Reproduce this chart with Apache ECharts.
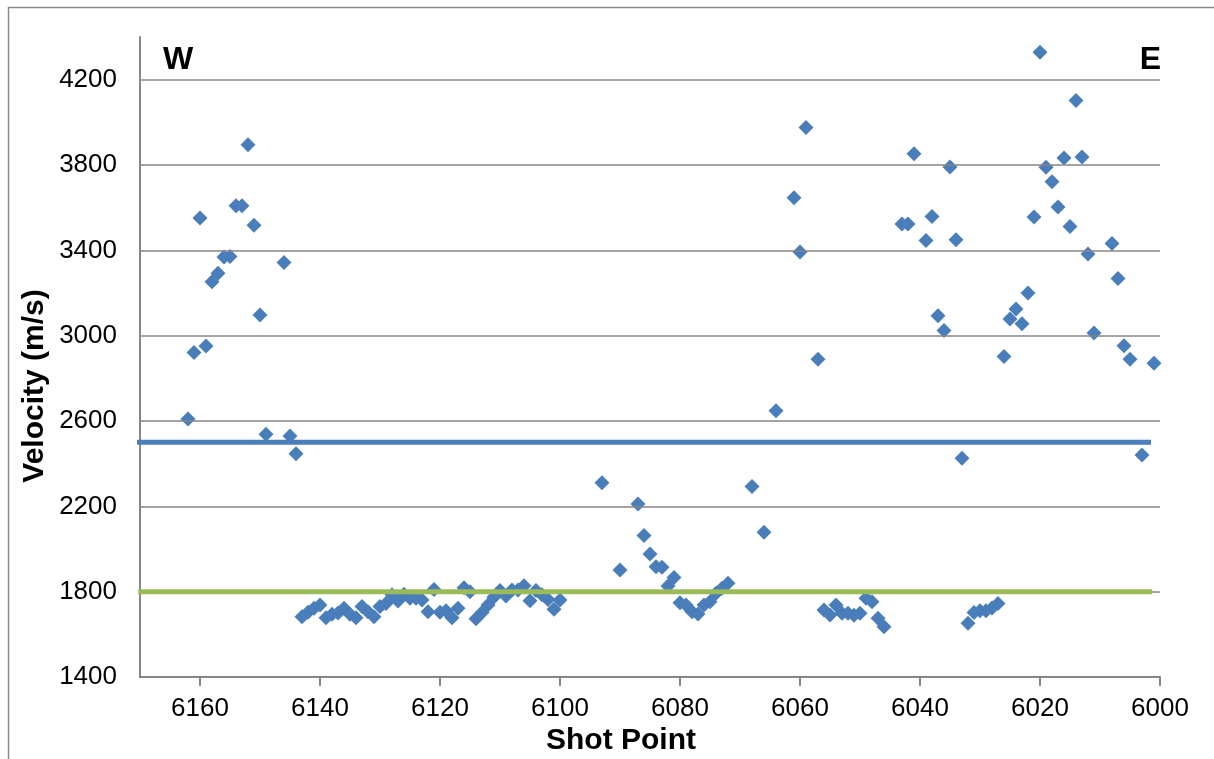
<!DOCTYPE html>
<html>
<head>
<meta charset="utf-8">
<script src="https://cdn.jsdelivr.net/npm/echarts@6/dist/echarts.min.js"></script>
<style>
  html, body { margin: 0; padding: 0; background: #ffffff; }
  #chart { width: 1214px; height: 759px; }
</style>
</head>
<body>
<div id="chart"></div>
<script>
// Shot points and measured velocities (m/s)
const shotPoints = [
  6162, 6161, 6160, 6159, 6158, 6157, 6156, 6155, 6154, 6153, 6152, 6151, 6150, 6149, 6146, 6145, 6144,
  6143, 6142, 6141, 6140, 6139, 6138, 6137, 6136, 6135, 6134, 6133, 6132, 6131, 6130, 6129, 6128, 6127,
  6126, 6125, 6124, 6123, 6122, 6121, 6120, 6119, 6118, 6117, 6116, 6115, 6114, 6113, 6112, 6111, 6110,
  6109, 6108, 6107, 6106, 6105, 6104, 6103, 6102, 6101, 6100,
  6093, 6090, 6087, 6086, 6085, 6084, 6083, 6082, 6081, 6080, 6079, 6078, 6077, 6076, 6075, 6074, 6073, 6072,
  6068, 6066, 6064, 6061, 6060, 6059, 6057, 6056, 6055, 6054, 6053, 6052, 6051, 6050, 6049, 6048, 6047, 6046,
  6043, 6042, 6041, 6039, 6038, 6037, 6036, 6035, 6034, 6033, 6032, 6031, 6030, 6029, 6028, 6027,
  6026, 6025, 6024, 6023, 6022, 6021, 6020, 6019, 6018, 6017, 6016, 6015, 6014, 6013, 6012, 6011,
  6008, 6007, 6006, 6005, 6003, 6001
];
const velocities = [
  2609, 2921, 3551, 2952, 3253, 3293, 3369, 3371, 3609, 3609, 3895, 3517, 3097, 2538, 3343, 2530, 2446,
  1683, 1703, 1722, 1738, 1678, 1694, 1700, 1722, 1694, 1678, 1730, 1706, 1683, 1730, 1745, 1785, 1756,
  1788, 1769, 1769, 1761, 1706, 1810, 1703, 1710, 1678, 1722, 1818, 1800, 1673, 1702, 1738, 1775, 1805,
  1780, 1808, 1808, 1828, 1757, 1806, 1785, 1763, 1718, 1761,
  2311, 1902, 2211, 2063, 1977, 1917, 1914, 1827, 1866, 1748, 1738, 1706, 1695, 1738, 1753, 1793, 1816, 1840,
  2293, 2079, 2648, 3647, 3392, 3976, 2890, 1714, 1691, 1738, 1699, 1699, 1690, 1699, 1769, 1753, 1675, 1636,
  3523, 3523, 3853, 3446, 3559, 3093, 3024, 3791, 3450, 2425, 1652, 1702, 1710, 1710, 1723, 1745,
  2902, 3078, 3125, 3056, 3200, 3556, 4328, 3789, 3722, 3603, 3833, 3512, 4102, 3838, 3383, 3012,
  3432, 3268, 2953, 2890, 2441, 2871
];
// Reference lines
const blueLineX = [6171, 6001.5];
const blueLineV = 2500;
const greenLineX = [6170.3, 6001.3];
const greenLineV = 1800;
// Axis ticks
const xMin = 6000, xMax = 6170, xStep = 20;
const yMin = 1400, yMax = 4400, yStep = 400;
const yGridValues = [1800, 2200, 2600, 3000, 3400, 3800, 4200];

const FONT = '"Liberation Sans", Arial, sans-serif';
const GRAY = '#868686';
const BLUE = '#4A7EBB';
const GREEN = '#9BBB59';

const points = shotPoints.map((s, i) => [s, velocities[i]]);

const chart = echarts.init(document.getElementById('chart'), null, { renderer: 'canvas' });
chart.setOption({
  animation: false,
  backgroundColor: '#ffffff',
  grid: { left: 140, top: 37, right: 54, bottom: 82, containLabel: false },
  graphic: [
    { type: 'rect', left: 6, top: 5, shape: { x: 0, y: 0, width: 1220, height: 770 },
      style: { fill: 'none', stroke: '#8a8a8a', lineWidth: 1.5 }, z: -10 },
    { type: 'text', left: 163, top: 44, style: { text: 'W', font: 'bold 32px ' + FONT, fill: '#000' } },
    { type: 'text', right: 53, top: 44, style: { text: 'E', font: 'bold 32px ' + FONT, fill: '#000' } },
    { type: 'text', x: 35, y: 386, rotation: Math.PI / 2,
      style: { text: 'Velocity (m/s)', font: 'bold 30px ' + FONT, fill: '#000', align: 'center', verticalAlign: 'middle' } },
    { type: 'text', x: 621, y: 741,
      style: { text: 'Shot Point', font: 'bold 30px ' + FONT, fill: '#000', align: 'center', verticalAlign: 'middle' } }
  ],
  xAxis: {
    type: 'value', min: xMin, max: xMax, interval: xStep, inverse: true,
    axisLine: { show: true, onZero: false, lineStyle: { color: GRAY, width: 2 } },
    axisTick: { show: true, length: 9, inside: false, lineStyle: { color: GRAY, width: 2 } },
    axisLabel: { fontFamily: FONT, fontSize: 26, color: '#000', margin: 19, showMaxLabel: false,
                 formatter: v => String(v) },
    splitLine: { show: false }
  },
  yAxis: {
    type: 'value', min: yMin, max: yMax, interval: yStep,
    axisLine: { show: true, lineStyle: { color: GRAY, width: 2 } },
    axisTick: { show: false },
    axisLabel: { fontFamily: FONT, fontSize: 26, color: '#000', margin: 23, showMaxLabel: false,
                 formatter: v => String(v) },
    splitLine: { show: false }
  },
  series: [
    {
      type: 'scatter', name: 'grid', data: [], silent: true,
      markLine: {
        silent: true, symbol: 'none', label: { show: false }, animation: false,
        lineStyle: { color: GRAY, width: 1.5, type: 'solid' },
        data: yGridValues.map(v => ({ yAxis: v }))
      },
      z: 0
    },
    {
      type: 'scatter', name: 'Velocity', data: points,
      symbol: 'diamond', symbolSize: 15,
      itemStyle: { color: BLUE, opacity: 1 },
      z: 3
    },
    {
      type: 'line', name: 'blue', data: blueLineX.map(x => [x, blueLineV]),
      symbol: 'none', clip: false, lineStyle: { color: BLUE, width: 5 }, z: 6
    },
    {
      type: 'line', name: 'green', data: greenLineX.map(x => [x, greenLineV]),
      symbol: 'none', clip: false, lineStyle: { color: GREEN, width: 5 }, z: 6
    }
  ]
});
</script>
</body>
</html>
